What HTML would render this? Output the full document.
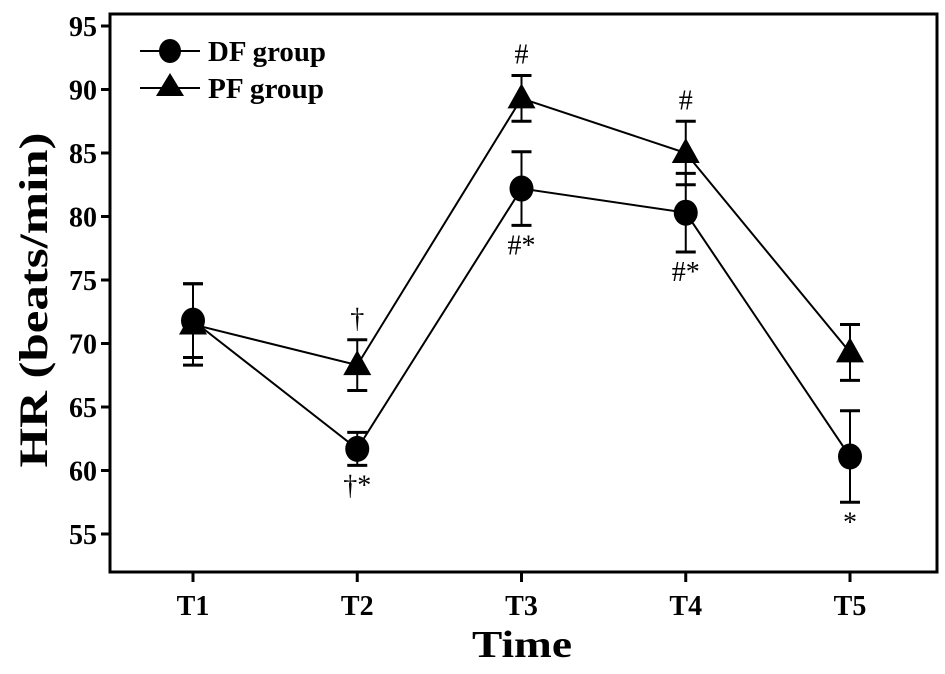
<!DOCTYPE html>
<html><head><meta charset="utf-8"><style>
body{margin:0;background:#fff}
svg text{font-family:"Liberation Serif",serif;fill:#000}
</style></head><body>
<svg width="945" height="669">
<g id="axes"></g><g id="marks"></g>
</svg>
<script>
const categories=["T1","T2","T3","T4","T5"];
const dfMean=[71.8,61.7,82.2,80.3,61.1];
const dfErr=[2.9,1.3,2.9,3.1,3.6];
const pfMean=[71.5,68.3,89.3,85.0,69.3];
const pfErr=[3.2,2.0,1.8,2.5,2.2];
const yTicks=[55,60,65,70,75,80,85,90,95];
const pfNotes=["","†","#","#",""];
const dfNotes=["","†*","#*","#*","*"];
const NS="http://www.w3.org/2000/svg";
const L=110,R=937,T=14,B=572;
const y=v=>26+(95-v)*12.7;
const x=i=>193+i*164.25;
const axes=document.getElementById('axes'),marks=document.getElementById('marks');
function mk(p,tag,at,txt){const e=document.createElementNS(NS,tag);for(const k in at)e.setAttribute(k,at[k]);if(txt!==undefined)e.textContent=txt;p.appendChild(e);return e;}
let f=mk(axes,'rect',{x:L,y:T,width:R-L,height:B-T,fill:'none',stroke:'#000','stroke-width':3});

yTicks.forEach(v=>{
 let t=mk(axes,'line',{x1:L-9,x2:L,y1:y(v),y2:y(v),stroke:'#000','stroke-width':3});
 
 let l=mk(axes,'text',{x:L-13,y:y(v)+10,'text-anchor':'end','font-size':28,'font-weight':'bold'},v);
 
});
categories.forEach((c,i)=>{
 let t=mk(axes,'line',{x1:x(i),x2:x(i),y1:B,y2:B+10,stroke:'#000','stroke-width':3});
 
 let l=mk(axes,'text',{x:x(i),y:615,'text-anchor':'middle','font-size':28,'font-weight':'bold'},c);
 
});
let xt=mk(axes,'text',{x:522,y:657,'text-anchor':'middle','font-size':38,'font-weight':'bold',textLength:100,lengthAdjust:'spacingAndGlyphs'},'Time');

let yt=mk(axes,'text',{x:0,y:0,transform:'translate(47,300) rotate(-90)','text-anchor':'middle','font-size':40,'font-weight':'bold',textLength:335,lengthAdjust:'spacingAndGlyphs'},'HR (beats/min)');

function series(mean,err,tri,name){
 let pts=mean.map((v,i)=>x(i)+','+y(v)).join(' ');
 let pl=mk(marks,'polyline',{points:pts,fill:'none',stroke:'#000','stroke-width':2});
 
 mean.forEach((v,i)=>{
  const cx=x(i),cy=y(v),t=y(v+err[i]),b=y(v-err[i]);
  let g=mk(marks,'g',{});
  
  mk(g,'line',{x1:cx,x2:cx,y1:t,y2:b,stroke:'#000','stroke-width':2});
  mk(g,'line',{x1:cx-10,x2:cx+10,y1:t,y2:t,stroke:'#000','stroke-width':3});
  mk(g,'line',{x1:cx-10,x2:cx+10,y1:b,y2:b,stroke:'#000','stroke-width':3});
  if(tri)mk(g,'polygon',{points:`${cx},${cy-15} ${cx-14},${cy+10} ${cx+14},${cy+10}`,fill:'#000'});
  else mk(g,'ellipse',{cx:cx,cy:cy,rx:12,ry:13,fill:'#000'});
 });
}
series(dfMean,dfErr,false,'df');
series(pfMean,pfErr,true,'pf');
pfNotes.forEach((n,i)=>{if(!n)return;
 let e=mk(marks,'text',{x:x(i),y:y(pfMean[i]+pfErr[i])-12,'text-anchor':'middle','font-size':28},n);
 });
dfNotes.forEach((n,i)=>{if(!n)return;
 let e=mk(marks,'text',{x:x(i),y:y(dfMean[i]-dfErr[i])+29,'text-anchor':'middle','font-size':28},n);
 });
let lg=mk(marks,'g',{});

let e1=mk(lg,'g',{});
mk(e1,'line',{x1:140,x2:200,y1:51,y2:51,stroke:'#000','stroke-width':2});
mk(e1,'ellipse',{cx:170,cy:51,rx:11,ry:12,fill:'#000'});
mk(e1,'text',{x:208,y:61,'font-size':29,'font-weight':'bold',textLength:118,lengthAdjust:'spacingAndGlyphs'},'DF group');
let e2=mk(lg,'g',{});
mk(e2,'line',{x1:140,x2:200,y1:88,y2:88,stroke:'#000','stroke-width':2});
mk(e2,'polygon',{points:'170,73 156,96 184,96',fill:'#000'});
mk(e2,'text',{x:208,y:98,'font-size':29,'font-weight':'bold',textLength:116,lengthAdjust:'spacingAndGlyphs'},'PF group');
</script>
</body></html>
